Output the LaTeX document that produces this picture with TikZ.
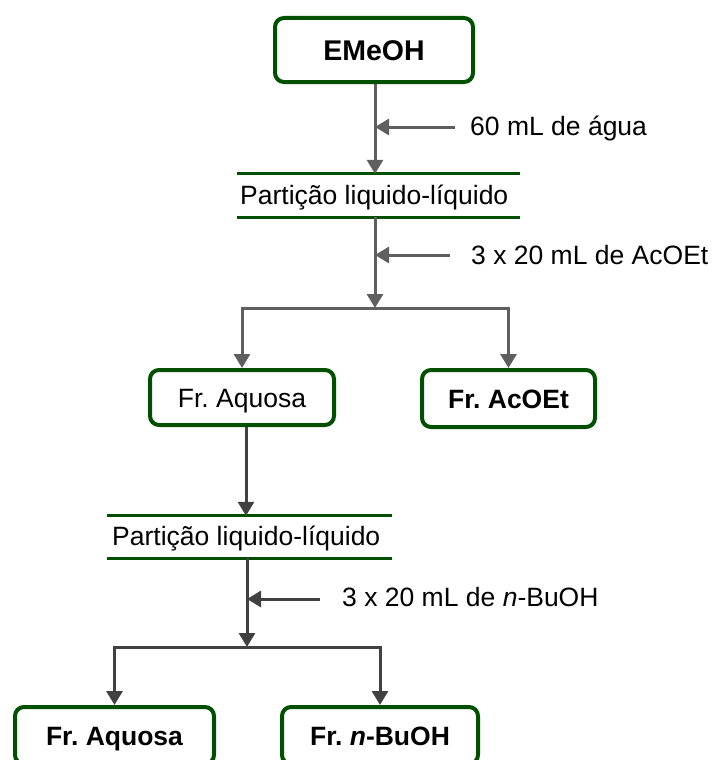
\documentclass[tikz,border=0pt]{standalone}
\usepackage{fontspec}
\setmainfont{Liberation Sans}
\usetikzlibrary{arrows.meta}
\definecolor{boxgreen}{RGB}{0,80,0}
\definecolor{conngray}{RGB}{95,95,95}
\definecolor{conndark}{RGB}{65,65,65}
\frenchspacing
\begin{document}
\begin{tikzpicture}[x=1pt,y=-1pt,
  font=\fontsize{26.5}{30}\selectfont,
  box/.style={draw=boxgreen, line width=4pt, rounded corners=9pt, fill=white,
              inner sep=0pt, text height=19pt, text depth=0pt},
  part/.style={inner sep=0pt},
  partline/.style={draw=boxgreen, line width=3pt},
  conn/.style={draw=conngray, line width=3pt},
  conn2/.style={draw=conndark, line width=3pt},
  tip/.style={-{Triangle[width=16pt,length=14pt]}},
  lab/.style={anchor=base west, inner sep=0pt}]
\useasboundingbox (0,0) rectangle (713,760);

% nodes
\node[box, minimum width=198pt, minimum height=64pt,
      font=\fontsize{28.5}{30}\selectfont\bfseries, text height=20pt] (e) at (374,50) {EMeOH};
\node[part, minimum width=283pt, minimum height=43pt] (p1) at (378.5,195.5) {};
\node[lab] (t1) at (240,204) {Partição liquido-líquido};
\node[box, minimum width=184pt, minimum height=55pt] (a1) at (242,397.5) {Fr. Aquosa};
\node[box, minimum width=173pt, minimum height=57pt, font=\fontsize{26.5}{30}\selectfont\bfseries] (a2) at (508.5,398.5) {Fr. AcOEt};
\node[part, minimum width=285pt, minimum height=42pt] (p2) at (249.5,537) {};
\node[lab] (t2) at (112,545.5) {Partição liquido-líquido};
\node[box, minimum width=199pt, minimum height=57pt, font=\fontsize{26.5}{30}\selectfont\bfseries] (c1) at (114.5,735.5) {Fr. Aquosa};
\node[box, minimum width=196pt, minimum height=57pt, font=\fontsize{26.5}{30}\selectfont\bfseries] (c2) at (380,735.5) {Fr. \textit{n}-BuOH};

% partition bars
\draw[partline] (p1.north west) -- (p1.north east);
\draw[partline] (p1.south west) -- (p1.south east);
\draw[partline] (p2.north west) -- (p2.north east);
\draw[partline] (p2.south west) -- (p2.south east);

% first stage
\coordinate (v1) at (375,84);
\draw[conn,tip] (v1) -- (v1 |- p1.north);
\coordinate (w1) at (455,127);
\draw[conn,tip] (w1) -- (w1 -| v1);
\node[lab] (l1) at (470,135.5) {60 mL de água};

\coordinate (b1) at (375,308);
\draw[conn,tip] (p1.south -| b1) -- (b1);
\coordinate (w2) at (450,255);
\draw[conn,tip] (w2) -- (w2 -| b1);
\node[lab] (l2) at (471,264) {3 x 20 mL de AcOEt};

\draw[conn,tip] (b1) -| (a1.north);
\draw[conn,tip] (b1) -| (a2.north);

% second stage
\coordinate (v2) at (246,427);
\draw[conn2,tip] (v2) -- (v2 |- p2.north);
\coordinate (b2) at (247,647);
\draw[conn2,tip] (p2.south -| b2) -- (b2);
\coordinate (w3) at (320,599);
\draw[conn2,tip] (w3) -- (w3 -| b2);
\node[lab] (l3) at (342,606) {3 x 20 mL de \textit{n}-BuOH};

\draw[conn2,tip] (b2) -| (c1.north);
\draw[conn2,tip] (b2) -| (c2.north);
\end{tikzpicture}
\end{document}
